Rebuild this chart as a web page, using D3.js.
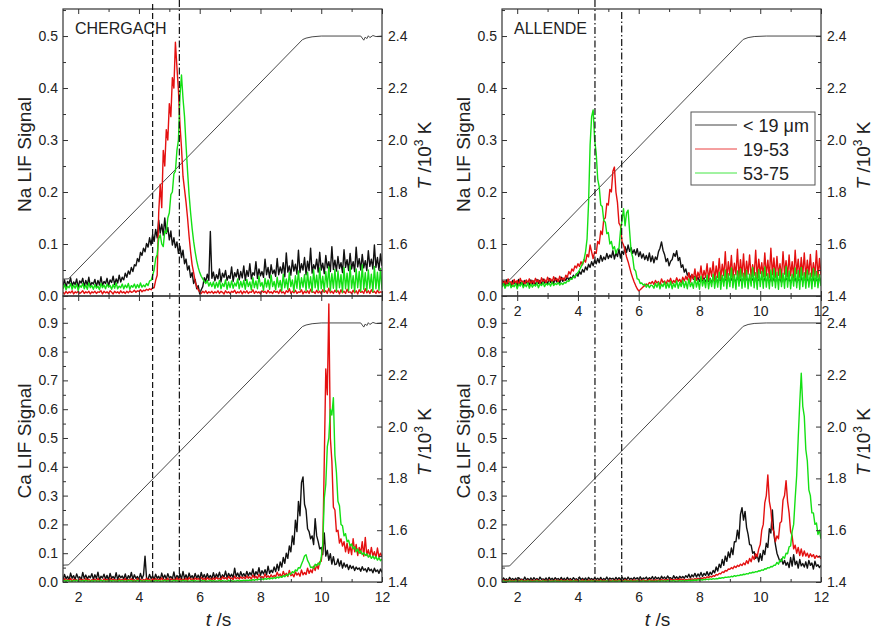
<!DOCTYPE html>
<html><head><meta charset="utf-8">
<script src="https://cdn.jsdelivr.net/npm/d3@7"></script>
<style>body{margin:0;background:#fff}svg{display:block}</style>
</head><body>
<script>
// ---------- DATA ----------
// sampling grid of the signals: t = 1.5 ... 12.0 s in 0.05 s steps (211 samples)
const times = d3.range(211).map(i => +(1.5 + 0.05 * i).toFixed(2));

const seriesNames = ["< 19 \u03bcm", "19-53", "53-75"];
const seriesColors = ["#111111", "#e41010", "#14e014"];

// Na LIF signal, CHERGACH
const naChBlack = [
 .020,.031,.017,.028,.024,.035,.019,.027,.022,.033,.016,.029,.025,.034,.018,.030,.021,.036,.019,.026,
 .023,.032,.018,.030,.021,.037,.020,.028,.024,.034,.019,.031,.026,.038,.022,.033,.025,.040,.027,.036,
 .031,.044,.036,.048,.042,.055,.047,.060,.058,.072,.066,.084,.078,.092,.085,.101,.094,.112,.098,.118,
 .105,.128,.112,.146,.121,.138,.117,.150,.120,.132,.108,.125,.098,.112,.093,.104,.082,.096,.074,.088,
 .062,.071,.050,.058,.036,.045,.024,.032,.014,.020,.004,.012,.018,.035,.028,.042,.030,.124,.034,.046,
 .029,.041,.033,.052,.027,.044,.036,.049,.030,.039,.034,.056,.028,.045,.037,.051,.031,.047,.035,.058,
 .030,.049,.038,.062,.033,.045,.040,.066,.034,.052,.039,.047,.036,.071,.041,.055,.035,.060,.043,.050,
 .038,.072,.041,.056,.044,.064,.037,.083,.046,.058,.040,.069,.048,.061,.042,.088,.045,.062,.050,.074,
 .041,.067,.049,.092,.044,.060,.052,.071,.046,.084,.050,.063,.043,.078,.054,.066,.047,.095,.051,.069,
 .048,.076,.053,.064,.045,.089,.055,.070,.049,.082,.052,.066,.047,.094,.056,.072,.050,.080,.054,.068,
 .049,.087,.057,.071,.052,.098,.055,.074,.050,.081,.058];
const naChRed = [
 .007,.004,.009,.005,.008,.006,.010,.004,.008,.006,.009,.005,.007,.010,.005,.008,.006,.009,.004,.008,
 .006,.009,.005,.008,.007,.010,.004,.009,.006,.008,.005,.010,.007,.004,.009,.006,.008,.005,.010,.006,
 .008,.005,.009,.006,.010,.007,.008,.011,.007,.010,.009,.012,.008,.011,.010,.013,.011,.014,.012,.016,
 .016,.030,.040,.160,.215,.170,.280,.250,.320,.300,.370,.345,.420,.400,.488,.440,.395,.330,.285,.230,
 .205,.180,.150,.115,.085,.060,.045,.028,.018,.012,.008,.005,.009,.006,.010,.005,.008,.006,.009,.005,
 .008,.006,.010,.005,.009,.007,.004,.010,.006,.008,.005,.009,.007,.011,.005,.008,.006,.010,.004,.009,
 .006,.010,.005,.008,.007,.012,.005,.009,.006,.008,.004,.010,.007,.009,.005,.011,.006,.008,.005,.010,
 .007,.009,.005,.012,.006,.008,.004,.010,.007,.014,.005,.009,.006,.011,.005,.008,.007,.012,.004,.009,
 .006,.010,.005,.013,.007,.008,.005,.011,.006,.009,.004,.012,.007,.010,.005,.015,.006,.009,.005,.011,
 .007,.010,.004,.012,.006,.009,.005,.013,.007,.008,.005,.011,.006,.010,.004,.012,.007,.009,.005,.014,
 .006,.010,.005,.012,.007,.009,.005,.011,.006,.008,.007];
const naChGreen = [
 .014,.022,.012,.019,.016,.024,.013,.021,.015,.023,.011,.020,.017,.024,.014,.021,.013,.025,.016,.020,
 .013,.022,.015,.019,.012,.024,.016,.021,.014,.023,.017,.020,.013,.022,.015,.025,.014,.019,.016,.023,
 .014,.021,.016,.024,.013,.020,.017,.023,.015,.022,.016,.025,.017,.021,.018,.024,.020,.029,.030,.040,
 .050,.072,.080,.110,.118,.100,.095,.125,.122,.150,.160,.195,.200,.235,.240,.280,.300,.385,.425,.380,
 .345,.290,.240,.195,.160,.130,.105,.085,.068,.055,.045,.038,.033,.028,.024,.030,.019,.026,.018,.027,
 .015,.026,.017,.030,.014,.024,.018,.031,.013,.027,.016,.029,.015,.025,.019,.033,.014,.028,.017,.030,
 .013,.032,.018,.027,.012,.035,.016,.029,.014,.038,.019,.026,.011,.034,.017,.031,.013,.040,.018,.028,
 .012,.036,.017,.030,.010,.042,.016,.033,.013,.045,.018,.031,.009,.039,.015,.048,.012,.035,.017,.041,
 .010,.046,.015,.037,.008,.050,.016,.040,.011,.054,.014,.038,.009,.047,.017,.056,.010,.043,.015,.051,
 .009,.048,.016,.041,.007,.055,.014,.044,.010,.058,.015,.039,.008,.052,.016,.047,.009,.060,.013,.045,
 .010,.050,.015,.042,.008,.057,.014,.046,.011,.053,.012];

// Na LIF signal, ALLENDE
const naAlBlack = [
 .021,.028,.019,.031,.023,.026,.018,.030,.024,.027,.020,.032,.022,.029,.019,.030,.025,.028,.021,.031,
 .023,.029,.020,.032,.024,.030,.022,.033,.025,.029,.023,.034,.026,.031,.024,.035,.027,.032,.025,.036,
 .028,.034,.030,.037,.031,.036,.033,.040,.035,.043,.038,.047,.042,.051,.046,.056,.050,.061,.055,.066,
 .058,.069,.062,.072,.064,.078,.067,.075,.070,.082,.072,.079,.074,.087,.071,.083,.076,.090,.073,.086,
 .080,.095,.084,.098,.086,.093,.082,.089,.079,.091,.076,.085,.073,.081,.070,.078,.068,.083,.066,.077,
 .064,.075,.070,.085,.092,.104,.088,.080,.066,.072,.058,.067,.070,.082,.076,.087,.068,.074,.055,.060,
 .046,.052,.040,.044,.035,.041,.032,.038,.030,.036,.028,.034,.029,.035,.027,.033,.028,.034,.026,.032,
 .028,.035,.026,.033,.029,.036,.027,.032,.030,.035,.026,.034,.028,.033,.027,.036,.029,.032,.026,.035,
 .028,.034,.027,.035,.029,.033,.026,.036,.028,.032,.030,.035,.027,.034,.029,.033,.026,.035,.028,.034,
 .027,.035,.029,.033,.026,.036,.028,.034,.030,.032,.027,.035,.029,.034,.026,.033,.028,.036,.027,.034,
 .029,.033,.027,.035,.028,.034,.026,.032,.029,.035,.028];
const naAlRed = [
 .031,.023,.029,.020,.033,.025,.028,.019,.032,.024,.030,.021,.034,.026,.029,.022,.031,.025,.033,.023,
 .030,.024,.034,.027,.031,.022,.035,.028,.032,.025,.036,.029,.033,.026,.037,.030,.034,.027,.038,.031,
 .035,.030,.040,.036,.047,.042,.052,.048,.058,.054,.062,.057,.066,.060,.070,.065,.080,.075,.098,.085,
 .072,.085,.082,.105,.100,.125,.118,.148,.150,.178,.175,.205,.200,.240,.248,.200,.180,.140,.135,.105,
 .098,.088,.075,.066,.055,.044,.035,.027,.020,.014,.010,.012,.015,.018,.020,.023,.021,.026,.024,.028,
 .022,.030,.025,.028,.021,.033,.026,.029,.023,.031,.027,.034,.024,.030,.026,.035,.028,.032,.025,.036,
 .029,.038,.031,.045,.027,.042,.033,.052,.030,.046,.035,.058,.032,.049,.036,.062,.031,.054,.038,.066,
 .030,.058,.036,.072,.033,.061,.039,.085,.032,.066,.040,.078,.034,.063,.041,.090,.035,.070,.038,.081,
 .033,.067,.042,.079,.036,.060,.040,.088,.034,.071,.043,.064,.037,.083,.039,.069,.035,.092,.041,.073,
 .036,.076,.040,.062,.034,.085,.042,.068,.037,.079,.039,.066,.035,.088,.043,.071,.036,.074,.040,.083,
 .034,.069,.041,.080,.037,.064,.039,.087,.036,.072,.040];
const naAlGreen = [
 .017,.024,.015,.022,.019,.025,.016,.021,.018,.024,.014,.023,.019,.026,.016,.022,.018,.025,.015,.023,
 .017,.022,.019,.025,.016,.023,.020,.026,.018,.024,.021,.025,.019,.027,.020,.024,.022,.026,.021,.025,
 .022,.026,.025,.029,.028,.033,.032,.037,.036,.042,.045,.050,.056,.062,.070,.085,.110,.180,.290,.345,
 .358,.300,.275,.225,.210,.175,.172,.145,.142,.120,.122,.100,.105,.090,.095,.082,.090,.092,.125,.145,
 .168,.135,.160,.165,.125,.085,.075,.052,.048,.033,.032,.024,.025,.021,.023,.017,.022,.016,.021,.020,
 .015,.024,.017,.026,.014,.023,.018,.027,.015,.025,.016,.028,.014,.024,.017,.029,.015,.026,.018,.030,
 .016,.028,.014,.033,.018,.026,.015,.036,.017,.030,.013,.038,.019,.032,.016,.040,.014,.034,.018,.042,
 .015,.038,.017,.046,.013,.040,.019,.050,.014,.043,.018,.054,.016,.041,.013,.048,.019,.052,.015,.044,
 .017,.049,.014,.042,.019,.055,.016,.045,.013,.051,.018,.047,.015,.056,.017,.043,.014,.050,.019,.053,
 .016,.046,.013,.052,.018,.044,.015,.057,.017,.048,.014,.042,.019,.054,.016,.049,.013,.055,.018,.045,
 .015,.050,.017,.044,.014,.053,.018,.047,.016,.041,.019];

// Ca LIF signal, CHERGACH
const caChBlack = [
 .008,.026,.011,.020,.006,.031,.013,.022,.009,.028,.014,.018,.007,.033,.012,.024,.010,.021,.015,.029,
 .009,.025,.012,.034,.007,.020,.014,.027,.010,.023,.006,.030,.013,.019,.011,.032,.008,.024,.015,.021,
 .010,.028,.007,.022,.013,.033,.009,.025,.012,.019,.008,.030,.011,.024,.090,.014,.010,.026,.012,.021,
 .009,.027,.013,.020,.008,.031,.012,.024,.010,.029,.014,.019,.011,.035,.009,.023,.013,.028,.010,.037,
 .012,.025,.009,.031,.014,.022,.011,.030,.013,.024,.010,.033,.015,.026,.012,.029,.014,.023,.011,.032,
 .013,.028,.016,.034,.012,.025,.017,.038,.014,.030,.018,.027,.015,.048,.019,.031,.016,.036,.020,.029,
 .018,.037,.021,.033,.024,.045,.020,.036,.026,.050,.023,.039,.028,.043,.025,.055,.030,.041,.033,.052,
 .036,.062,.040,.070,.052,.085,.065,.100,.082,.125,.105,.160,.130,.215,.175,.280,.230,.345,.365,.270,
 .250,.185,.175,.150,.160,.130,.220,.160,.140,.115,.120,.095,.170,.090,.110,.075,.098,.062,.088,.060,
 .062,.080,.055,.074,.048,.066,.052,.061,.043,.058,.047,.055,.040,.052,.044,.049,.037,.053,.041,.046,
 .035,.050,.039,.044,.032,.048,.036,.042,.030,.045,.033];
const caChRed = [
 .005,.011,.004,.009,.006,.012,.003,.010,.005,.008,.004,.011,.006,.009,.003,.012,.005,.010,.004,.008,
 .006,.010,.004,.012,.005,.008,.003,.011,.006,.009,.004,.013,.005,.010,.006,.008,.004,.011,.005,.009,
 .005,.012,.004,.009,.006,.011,.005,.008,.003,.012,.006,.010,.004,.009,.005,.013,.006,.010,.004,.011,
 .006,.012,.005,.010,.007,.014,.005,.009,.006,.013,.004,.011,.007,.010,.005,.014,.006,.012,.005,.010,
 .007,.013,.006,.015,.008,.011,.006,.014,.009,.012,.007,.016,.008,.013,.006,.015,.009,.012,.007,.014,
 .008,.016,.010,.013,.007,.018,.011,.015,.009,.019,.012,.014,.008,.020,.011,.016,.010,.018,.012,.017,
 .011,.021,.013,.018,.010,.024,.014,.020,.012,.026,.015,.019,.013,.028,.016,.022,.014,.025,.017,.023,
 .018,.034,.021,.028,.016,.037,.023,.030,.019,.040,.022,.027,.018,.035,.024,.031,.020,.042,.025,.033,
 .026,.048,.030,.042,.032,.055,.040,.060,.045,.070,.072,.120,.420,.740,.650,.965,.500,.420,.260,.250,
 .175,.180,.135,.150,.125,.140,.105,.135,.100,.125,.095,.150,.105,.130,.092,.120,.100,.140,.090,.155,
 .092,.112,.088,.120,.090,.105,.084,.118,.086,.100,.088];
const caChGreen = [
 .003,.005,.002,.006,.003,.004,.002,.005,.003,.006,.002,.004,.003,.005,.002,.006,.003,.004,.002,.005,
 .002,.005,.003,.004,.002,.006,.003,.005,.002,.004,.003,.006,.002,.005,.003,.004,.002,.006,.003,.005,
 .003,.004,.002,.006,.003,.005,.002,.004,.003,.006,.002,.005,.003,.004,.002,.006,.003,.005,.002,.004,
 .002,.006,.003,.005,.002,.004,.003,.006,.002,.005,.003,.004,.002,.006,.003,.005,.002,.004,.003,.006,
 .003,.005,.002,.004,.003,.006,.002,.005,.003,.004,.002,.006,.003,.005,.002,.004,.003,.006,.002,.005,
 .002,.004,.003,.006,.002,.005,.003,.004,.002,.006,.003,.005,.002,.004,.003,.006,.003,.005,.004,.006,
 .004,.006,.005,.007,.005,.008,.006,.009,.007,.010,.008,.011,.008,.012,.009,.013,.010,.014,.011,.016,
 .012,.017,.014,.019,.016,.022,.018,.025,.022,.030,.027,.036,.032,.042,.038,.050,.048,.062,.075,.090,
 .095,.075,.065,.050,.052,.048,.062,.056,.066,.060,.085,.130,.290,.340,.470,.500,.600,.580,.640,.440,
 .380,.280,.265,.200,.195,.160,.168,.140,.145,.125,.132,.115,.122,.105,.115,.100,.108,.095,.102,.092,
 .098,.086,.094,.082,.090,.080,.088,.076,.084,.074,.080];

// Ca LIF signal, ALLENDE
const caAlBlack = [
 .005,.014,.007,.011,.004,.016,.008,.012,.006,.013,.005,.015,.009,.010,.006,.017,.007,.012,.005,.014,
 .006,.015,.008,.012,.005,.017,.009,.011,.007,.014,.005,.016,.008,.013,.006,.015,.009,.012,.006,.016,
 .007,.013,.005,.016,.008,.012,.006,.015,.009,.011,.006,.017,.008,.013,.007,.014,.005,.016,.009,.012,
 .006,.015,.009,.013,.007,.016,.006,.012,.008,.017,.007,.014,.010,.013,.006,.016,.008,.015,.007,.018,
 .008,.014,.007,.017,.009,.013,.008,.016,.010,.015,.007,.018,.009,.014,.011,.017,.008,.015,.010,.019,
 .009,.018,.011,.016,.008,.020,.012,.017,.010,.021,.013,.015,.009,.022,.012,.018,.011,.020,.014,.019,
 .013,.022,.016,.027,.014,.025,.018,.030,.017,.028,.020,.033,.019,.030,.023,.036,.022,.034,.026,.040,
 .032,.052,.038,.062,.050,.078,.058,.090,.072,.104,.085,.118,.095,.140,.140,.180,.150,.235,.258,.215,
 .245,.190,.165,.130,.128,.100,.105,.082,.095,.070,.098,.075,.110,.095,.135,.120,.185,.170,.250,.165,
 .130,.100,.085,.070,.080,.062,.075,.058,.068,.050,.085,.055,.095,.060,.072,.048,.078,.056,.064,.052,
 .070,.048,.075,.058,.066,.045,.072,.055,.060,.050,.058];
const caAlRed = [
 .003,.007,.004,.006,.002,.008,.004,.005,.003,.007,.002,.006,.004,.008,.003,.005,.004,.007,.002,.006,
 .004,.006,.003,.008,.004,.005,.002,.007,.003,.006,.004,.008,.003,.005,.002,.007,.004,.006,.003,.008,
 .003,.006,.004,.007,.002,.008,.003,.005,.004,.007,.003,.006,.002,.008,.004,.005,.003,.007,.004,.006,
 .004,.007,.003,.006,.004,.008,.002,.007,.003,.005,.004,.008,.003,.006,.004,.007,.003,.008,.004,.006,
 .003,.008,.004,.006,.003,.007,.004,.008,.003,.006,.005,.007,.004,.008,.003,.006,.004,.009,.005,.007,
 .004,.008,.005,.007,.004,.009,.005,.008,.006,.009,.005,.010,.006,.008,.007,.010,.006,.011,.007,.010,
 .006,.009,.007,.010,.008,.011,.008,.012,.009,.013,.010,.014,.011,.016,.013,.018,.015,.020,.017,.022,
 .020,.026,.024,.030,.028,.035,.033,.040,.038,.045,.044,.050,.046,.055,.050,.058,.054,.062,.057,.066,
 .060,.074,.064,.082,.070,.090,.078,.098,.088,.115,.130,.180,.200,.275,.300,.372,.280,.250,.185,.175,
 .140,.160,.150,.205,.210,.285,.300,.352,.280,.240,.175,.160,.115,.128,.100,.120,.092,.115,.090,.108,
 .090,.100,.085,.098,.088,.095,.082,.092,.086,.090,.080];
const caAlGreen = [
 .002,.004,.001,.003,.002,.004,.002,.003,.001,.004,.002,.003,.002,.004,.001,.003,.002,.004,.002,.003,
 .001,.003,.002,.004,.002,.003,.001,.004,.002,.003,.002,.004,.001,.003,.002,.004,.002,.003,.001,.004,
 .002,.003,.002,.004,.001,.003,.002,.004,.002,.003,.001,.004,.002,.003,.002,.004,.001,.003,.002,.004,
 .002,.004,.002,.003,.001,.004,.002,.003,.002,.004,.002,.003,.001,.004,.002,.003,.002,.004,.002,.003,
 .001,.004,.002,.003,.002,.004,.001,.003,.002,.004,.002,.003,.002,.004,.001,.003,.002,.004,.002,.003,
 .002,.003,.002,.004,.002,.004,.003,.004,.002,.005,.003,.004,.003,.005,.002,.004,.003,.005,.003,.005,
 .003,.005,.004,.006,.004,.006,.005,.007,.005,.008,.006,.008,.007,.009,.008,.010,.008,.011,.009,.012,
 .010,.012,.011,.014,.013,.015,.014,.017,.016,.018,.017,.020,.018,.022,.020,.023,.022,.025,.024,.027,
 .026,.029,.028,.032,.031,.034,.033,.036,.035,.039,.038,.042,.041,.046,.045,.050,.049,.054,.053,.058,
 .058,.068,.062,.076,.072,.088,.082,.100,.098,.122,.125,.175,.200,.290,.370,.500,.620,.725,.610,.575,
 .460,.420,.320,.300,.240,.240,.200,.205,.165,.180,.150];

// temperature traces (T / 10^3 K), vertices
const tempChTimes  = [1.5, 1.68, 9.38, 9.5, 9.7, 10.0, 11.3, 11.4, 11.45, 11.5, 11.55, 11.6, 11.7, 11.8, 12.0];
const tempChValues = [1.465, 1.466, 2.386, 2.392, 2.397, 2.400, 2.400, 2.384, 2.396, 2.390, 2.401, 2.394, 2.402, 2.398, 2.400];
const tempAlTimes  = [1.5, 1.75, 9.44, 9.6, 9.8, 10.2, 12.0];
const tempAlValues = [1.461, 1.462, 2.387, 2.394, 2.398, 2.400, 2.400];

// reference times (vertical lines)
const chergachMarks = [4.45, 5.33];
const allendeMarks  = [4.56, 5.44];

// tick values
const xMajorTicks = [2, 4, 6, 8, 10, 12];
const xMinorTicks = [3, 5, 7, 9, 11];
const naTicks = [0, 0.1, 0.2, 0.3, 0.4, 0.5];
const naMinor = [0.05, 0.15, 0.25, 0.35, 0.45, 0.55];
const caTicks = [0, 0.1, 0.2, 0.3, 0.4, 0.5, 0.6, 0.7, 0.8, 0.9];
const caMinor = [0.05, 0.15, 0.25, 0.35, 0.45, 0.55, 0.65, 0.75, 0.85, 0.95];
const tTicks = [1.4, 1.6, 1.8, 2.0, 2.2, 2.4];
const tMinor = [1.5, 1.7, 1.9, 2.1, 2.3];

// ---------- DRAWING ----------
const W = 873, H = 632;
const FONT = "'Liberation Sans', Arial, Helvetica, sans-serif";
const svg = d3.select("body").append("svg").attr("width", W).attr("height", H)
  .attr("font-family", FONT);

function rightTitle(g, cx, cy) {
  const t = g.append("text").attr("transform", `translate(${cx},${cy}) rotate(-90)`)
    .attr("text-anchor", "middle").attr("font-size", 19).attr("fill", "#222");
  t.append("tspan").attr("font-style", "italic").text("T");
  t.append("tspan").text(" /10");
  t.append("tspan").attr("font-size", 12).attr("dy", -8).text("3");
  t.append("tspan").attr("dy", 8).text(" K");
}

function panel(o, idx) {
  const x = d3.scaleLinear().domain([1.5, 12]).range([o.left, o.right]);
  const y = d3.scaleLinear().domain([0, o.yMax]).range([o.bottom, o.top]);
  const yT = d3.scaleLinear().domain([1.4, 2.504]).range([o.bottom, o.top]);
  const g = svg.append("g");
  const cid = "clip" + idx;
  svg.append("clipPath").attr("id", cid).append("rect")
    .attr("x", o.left).attr("y", o.top).attr("width", o.right - o.left).attr("height", o.bottom - o.top);
  const plot = g.append("g").attr("clip-path", `url(#${cid})`);

  // temperature line
  const tline = d3.line().x((d, i) => x(o.tempT[i])).y(d => yT(d));
  plot.append("path").datum(o.tempV).attr("d", tline)
    .attr("fill", "none").attr("stroke", "#333").attr("stroke-width", 0.9);

  // signals
  const line = d3.line().x((d, i) => x(times[i])).y(d => y(d));
  o.series.forEach((vals, k) => {
    plot.append("path").datum(vals).attr("d", line)
      .attr("fill", "none").attr("stroke", seriesColors[k])
      .attr("stroke-width", 1.4).attr("stroke-linejoin", "round");
  });

  const axStyle = sel => {
    sel.select(".domain").remove();
    sel.selectAll("line").attr("stroke", "#333").attr("stroke-width", 1);
    sel.selectAll("text").attr("font-size", 14).attr("fill", "#222").attr("font-family", FONT);
  };
  // x axes
  g.append("g").attr("transform", `translate(0,${o.bottom})`)
    .call(d3.axisBottom(x).tickValues(xMajorTicks).tickSize(-5).tickPadding(10)
      .tickFormat(o.xLabels ? d3.format("d") : () => "")).call(axStyle);
  g.append("g").attr("transform", `translate(0,${o.bottom})`)
    .call(d3.axisBottom(x).tickValues(xMinorTicks).tickSize(-3).tickFormat(() => "")).call(axStyle);
  g.append("g").attr("transform", `translate(0,${o.top})`)
    .call(d3.axisTop(x).tickValues(xMajorTicks).tickSize(-5).tickFormat(() => "")).call(axStyle);
  g.append("g").attr("transform", `translate(0,${o.top})`)
    .call(d3.axisTop(x).tickValues(xMinorTicks).tickSize(-3).tickFormat(() => "")).call(axStyle);
  // left axis
  g.append("g").attr("transform", `translate(${o.left},0)`)
    .call(d3.axisLeft(y).tickValues(o.yTicks).tickSize(-5).tickPadding(5).tickFormat(d3.format(".1f"))).call(axStyle);
  g.append("g").attr("transform", `translate(${o.left},0)`)
    .call(d3.axisLeft(y).tickValues(o.yMinor.filter(v => v < o.yMax)).tickSize(-3).tickFormat(() => "")).call(axStyle);
  // right axis
  g.append("g").attr("transform", `translate(${o.right},0)`)
    .call(d3.axisRight(yT).tickValues(tTicks).tickSize(-5).tickPadding(6).tickFormat(d3.format(".1f"))).call(axStyle);
  g.append("g").attr("transform", `translate(${o.right},0)`)
    .call(d3.axisRight(yT).tickValues(tMinor).tickSize(-3).tickFormat(() => "")).call(axStyle);

  // frame
  g.append("rect").attr("x", o.left).attr("y", o.top)
    .attr("width", o.right - o.left).attr("height", o.bottom - o.top)
    .attr("fill", "none").attr("stroke", "#333").attr("stroke-width", 1.2);

  // y title
  g.append("text").attr("transform", `translate(${o.left - 32},${(o.top + o.bottom) / 2 + 2}) rotate(-90)`)
    .attr("text-anchor", "middle").attr("font-size", 19).attr("fill", "#222").text(o.yTitle);
  rightTitle(g, o.right + 49, (o.top + o.bottom) / 2 + 3);

  if (o.name) {
    g.append("text").attr("x", o.left + 12).attr("y", o.top + 25)
      .attr("font-size", 16).attr("fill", "#222").text(o.name);
  }
  if (o.xTitle) {
    const t = g.append("text").attr("x", (o.left + o.right) / 2 - 4).attr("y", o.bottom + 44)
      .attr("text-anchor", "middle").attr("font-size", 19).attr("fill", "#222");
    t.append("tspan").attr("font-style", "italic").text("t");
    t.append("tspan").text(" /s");
  }
  if (o.legend) {
    const lg = g.append("g");
    lg.append("rect").attr("x", 691).attr("y", 112).attr("width", 124).attr("height", 73)
      .attr("fill", "#fff").attr("stroke", "#555").attr("stroke-width", 1);
    seriesNames.forEach((n, k) => {
      const yy = 125 + 24 * k;
      lg.append("line").attr("x1", 695).attr("x2", 737).attr("y1", yy).attr("y2", yy)
        .attr("stroke", seriesColors[k]).attr("stroke-width", 0.8);
      lg.append("text").attr("x", 743).attr("y", yy + 6.5).attr("font-size", 18)
        .attr("fill", "#222").text(n);
    });
  }
  return x;
}

const L = {left: 63, right: 382}, R = {left: 502, right: 821};
const TOP = {top: 9, bottom: 296}, BOT = {top: 296, bottom: 582};

const xL = panel(Object.assign({}, L, TOP, {yMax: 0.552, yTicks: naTicks, yMinor: naMinor,
  series: [naChBlack, naChRed, naChGreen], tempT: tempChTimes, tempV: tempChValues,
  yTitle: "Na LIF Signal", name: "CHERGACH", xLabels: false}), 0);
const xR = panel(Object.assign({}, R, TOP, {yMax: 0.552, yTicks: naTicks, yMinor: naMinor,
  series: [naAlBlack, naAlRed, naAlGreen], tempT: tempAlTimes, tempV: tempAlValues,
  yTitle: "Na LIF Signal", name: "ALLENDE", xLabels: true, legend: true}), 1);
panel(Object.assign({}, L, BOT, {yMax: 0.993, yTicks: caTicks, yMinor: caMinor,
  series: [caChBlack, caChRed, caChGreen], tempT: tempChTimes, tempV: tempChValues,
  yTitle: "Ca LIF Signal", xLabels: true, xTitle: true}), 2);
panel(Object.assign({}, R, BOT, {yMax: 0.993, yTicks: caTicks, yMinor: caMinor,
  series: [caAlBlack, caAlRed, caAlGreen], tempT: tempAlTimes, tempV: tempAlValues,
  yTitle: "Ca LIF Signal", xLabels: true, xTitle: true}), 3);

// vertical reference lines spanning both panels
const vl = svg.append("g").attr("stroke", "#111").attr("stroke-width", 1.2).attr("fill", "none");
vl.append("line").attr("x1", xL(chergachMarks[0])).attr("x2", xL(chergachMarks[0]))
  .attr("y1", 4).attr("y2", 582).attr("stroke-dasharray", "6,3");
vl.append("line").attr("x1", xL(chergachMarks[1])).attr("x2", xL(chergachMarks[1]))
  .attr("y1", 0).attr("y2", 582).attr("stroke-dasharray", "7,2.5,1.5,2.5");
allendeMarks.forEach((m, k) => {
  vl.append("line").attr("x1", xR(m)).attr("x2", xR(m))
    .attr("y1", k === 0 ? 0 : 12).attr("y2", 582).attr("stroke-dasharray", "7,2.5,1.5,2.5");
});
</script>
</body></html>
